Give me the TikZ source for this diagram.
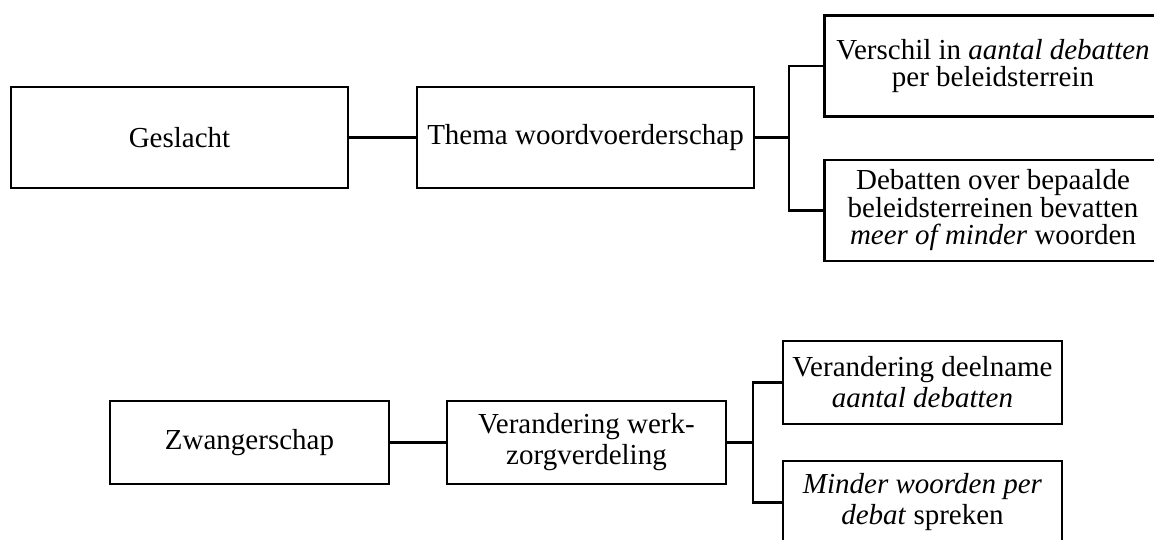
\documentclass[tikz,border=0pt]{standalone}
\usepackage{fontspec}
\setmainfont{Liberation Serif}
\usetikzlibrary{positioning,calc}
\tikzstyle{block}=[rectangle,draw=black,line width=2.2pt,fill=white,align=center,inner sep=2pt,font=\fontsize{29}{27.5}\selectfont]
\tikzstyle{wide}=[block,minimum width=337pt,minimum height=101pt]
\tikzstyle{narrow}=[block,minimum width=279pt,minimum height=83pt,font=\fontsize{29}{31}\selectfont]
\tikzstyle{link}=[line width=2.2pt,black]

\begin{document}
\begin{tikzpicture}[x=1pt,y=-1pt]
%-------------------------frame ---------------------
	\useasboundingbox (0,0) rectangle (1154,540);
	\clip (0,0) rectangle (1154,540);
%-------------------------start top tree---------------------
	\node[wide] (geslacht) at (179.5,137.5) {Geslacht};
	\node[wide] (thema) at (585.5,137.5) {Thema woordvoerderschap};
	\node[wide] (verschil) at (993,66) {Verschil in \textit{aantal debatten}\\per beleidsterrein};
	\node[wide] (debatten) at (993,210.5) {Debatten over bepaalde\\beleidsterreinen bevatten\\\textit{meer of minder} woorden};
	
	\coordinate (splitA) at (789,137.5);
	\draw[link] (geslacht) -- (thema);
	\draw[link] (thema.east) -- (splitA);
	\draw[link] (splitA) |- (verschil.west);
	\draw[link] (splitA) |- (debatten.west);
%-------------------------start bottom tree---------------------
	\node[narrow] (zwanger) at (249.5,442.5) {Zwangerschap};
	\node[narrow] (verdeling) at (586.5,442.5) {Verandering werk-\\zorgverdeling};
	\node[narrow] (deelname) at (922.5,382.5) {Verandering deelname\\\textit{aantal debatten}};
	\node[narrow] (minder) at (922.5,502.5) {\textit{Minder woorden per}\\\textit{debat} spreken};
	
	\coordinate (splitB) at (753,442.5);
	\draw[link] (zwanger) -- (verdeling);
	\draw[link] (verdeling.east) -- (splitB);
	\draw[link] (splitB) |- (deelname.west);
	\draw[link] (splitB) |- (minder.west);
%-------------------------end-----------------------
\end{tikzpicture}
\end{document}
